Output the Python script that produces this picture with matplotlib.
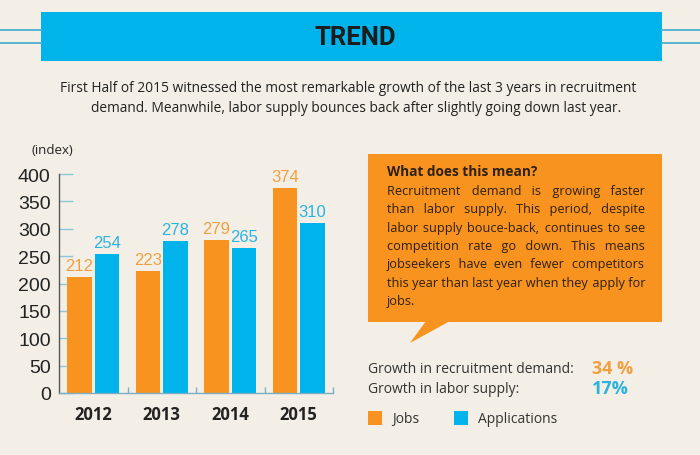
import matplotlib
matplotlib.use("Agg")
import matplotlib.pyplot as plt
from matplotlib.patches import Rectangle, Polygon
from matplotlib.lines import Line2D
from matplotlib import font_manager
from matplotlib.ft2font import FT2Font

# ---- data ----
years = ["2012", "2013", "2014", "2015"]
jobs = [212, 223, 279, 374]
applications = [254, 278, 265, 310]
y_ticks = [0, 50, 100, 150, 200, 250, 300, 350, 400]
growth_labels = ["Growth in recruitment demand:", "Growth in labor supply:"]
growth_values = ["34 %", "17%"]
legend_labels = ["Jobs", "Applications"]
title = "TREND"
subtitle = ["First Half of 2015 witnessed the most remarkable growth of the last 3 years in recruitment",
            "demand. Meanwhile, labor supply bounces back after slightly going down last year."]
box_title = "What does this mean?"
box_lines = ["Recruitment demand is growing faster",
             "than labor supply. This period, despite",
             "labor supply bouce-back, continues to see",
             "competition rate go down. This means",
             "jobseekers have even fewer competitors",
             "this year than last year when they apply for",
             "jobs."]

BG = "#f3efe7"
ORANGE = "#f7931e"
ORANGE_TXT = "#f0a040"
CYAN = "#00b4eb"
CYAN_TXT = "#2bb3e0"
DARK = "#222222"
FONT = "Open Sans"

W, H = 700, 456
fig = plt.figure(figsize=(W / 100, H / 100), dpi=100, facecolor=BG)

def fx(x):
    return x / W

def fy(y):
    return 1 - y / H

# ---- header ----
fig.patches.append(Rectangle((fx(41), fy(62)), fx(662) - fx(41), fy(13) - fy(62),
                             transform=fig.transFigure, facecolor=CYAN, edgecolor="none"))
for yy in (31, 44):
    fig.lines.append(Line2D([0, fx(41)], [fy(yy), fy(yy)], transform=fig.transFigure,
                            color="#4aaed0", lw=1.3))
    fig.lines.append(Line2D([fx(662), 1], [fy(yy), fy(yy)], transform=fig.transFigure,
                            color="#4aaed0", lw=1.3))
fig.text(fx(355), fy(45), title, ha="center", va="baseline", fontsize=18.5,
         fontweight="bold", color="#1c1c1c", family="Roboto")
fig.text(fx(348), fy(92), subtitle[0], ha="center", va="baseline", fontsize=9.9,
         color=DARK, family=FONT)
fig.text(fx(356), fy(112), subtitle[1], ha="center", va="baseline", fontsize=9.9,
         color=DARK, family=FONT)

# ---- bar chart ----
ax = fig.add_axes([fx(59), fy(394), fx(333) - fx(59), fy(175) - fy(394)])
ax.set_facecolor("none")
x = list(range(len(years)))
bw = 0.36
off = 0.2
ax.bar([i - off for i in x], jobs, bw, color=ORANGE, zorder=2)
ax.bar([i + off for i in x], applications, bw, color=CYAN, zorder=2)
for i in x:
    ax.annotate(str(jobs[i]), (i - off, jobs[i]), xytext=(0, 3), textcoords="offset points",
                ha="center", va="bottom", fontsize=12, color=ORANGE_TXT, family="Liberation Sans")
    ax.annotate(str(applications[i]), (i + off, applications[i]), xytext=(0, 3),
                textcoords="offset points", ha="center", va="bottom", fontsize=12,
                color=CYAN_TXT, family="Liberation Sans")
ax.set_xlim(-0.5, 3.5)
ax.set_ylim(0, 400)
ax.set_yticks(y_ticks)
ax.set_yticklabels([str(t) for t in y_ticks], fontsize=14, color=DARK, family="Liberation Sans")
ax.tick_params(axis="y", direction="in", length=10, width=1, color="#8cc8dc", pad=6)
ax.set_xticks([-0.5 + k for k in range(1, 5)])
ax.set_xticklabels([])
ax.tick_params(axis="x", direction="in", length=4, width=1, color="#7aaec8")
for i, yr in enumerate(years):
    ax.text(i, -0.095, yr, transform=ax.get_xaxis_transform(), ha="center", va="center",
            fontsize=12, fontweight="bold", color=DARK, family=FONT)
for s in ("top", "right"):
    ax.spines[s].set_visible(False)
ax.spines["left"].set_color("#555555")
ax.spines["bottom"].set_color("#7aaec8")
ax.spines["left"].set_linewidth(1)
ax.spines["bottom"].set_linewidth(1)
fig.text(fx(32), fy(151), "(index)", ha="left", va="center", fontsize=9.5, color=DARK, family=FONT)

# ---- speech box ----
fig.patches.append(Rectangle((fx(368), fy(323)), fx(662) - fx(368), fy(155) - fy(323),
                             transform=fig.transFigure, facecolor=ORANGE, edgecolor="none"))
fig.patches.append(Polygon([(fx(426), fy(322)), (fx(450), fy(322)), (fx(410), fy(344))],
                           closed=True, transform=fig.transFigure, facecolor=ORANGE,
                           edgecolor="none"))
TXT = "#2e2014"
FS = 9.15
fig.text(fx(387), fy(176.5), box_title, ha="left", va="baseline", fontsize=9.8,
         fontweight="bold", color=TXT, family=FONT)

renderer = fig.canvas.get_renderer()
try:
    fpath = font_manager.findfont(font_manager.FontProperties(family=FONT))
    has_hair = 0x200A in FT2Font(fpath).get_charmap()
except Exception:
    has_hair = False

def text_width(s):
    t = fig.text(0, 0, s, fontsize=FS, family=FONT)
    w = t.get_window_extent(renderer).width
    t.remove()
    return w

space_w = text_width("a a") - text_width("aa")
hair_w = (text_width("a\u200aa") - text_width("aa")) if has_hair else 0.0

left, right = 387, 645
line_y = [191, 209, 228, 246, 264, 283, 301]
for li, (line, yy) in enumerate(zip(box_lines, line_y)):
    yb = fy(yy + 4.5)
    words = line.split(" ")
    s = line
    if li < len(box_lines) - 1 and len(words) > 1:
        extra = (right - left) - text_width(line)
        per_gap = extra / (len(words) - 1)
        s = words[0]
        acc = 0.0
        for k, w in enumerate(words[1:], start=1):
            target = per_gap * k - acc
            ns = max(0, int(target // space_w))
            rem = target - ns * space_w
            nh = max(0, int(round(rem / hair_w))) if hair_w > 0.3 else 0
            if hair_w <= 0.3 and rem > space_w / 2:
                ns += 1
            acc += ns * space_w + nh * hair_w
            s += " " * (1 + ns) + "\u200a" * nh + w
    fig.text(fx(left), yb, s, ha="left", va="baseline", fontsize=FS, color=TXT, family=FONT)

# ---- growth ----
for lab, val, col, yy in zip(growth_labels, growth_values, [ORANGE_TXT, CYAN_TXT], [368, 388]):
    fig.text(fx(368), fy(yy + 5), lab, ha="left", va="baseline", fontsize=10, color="#333333",
             family=FONT)
    fig.text(fx(592), fy(yy + 6), val, ha="left", va="baseline", fontsize=13, fontweight="bold",
             color=col, family=FONT)

# ---- legend ----
for lab, col, x0 in zip(legend_labels, [ORANGE, CYAN], [368, 454]):
    fig.patches.append(Rectangle((fx(x0), fy(426)), fx(14), fy(412) - fy(426),
                                 transform=fig.transFigure, facecolor=col, edgecolor="none"))
    fig.text(fx(x0 + 24), fy(423), lab, ha="left", va="baseline", fontsize=10, color="#333333",
             family=FONT)

fig.savefig("out.png", dpi=100, facecolor=BG)
